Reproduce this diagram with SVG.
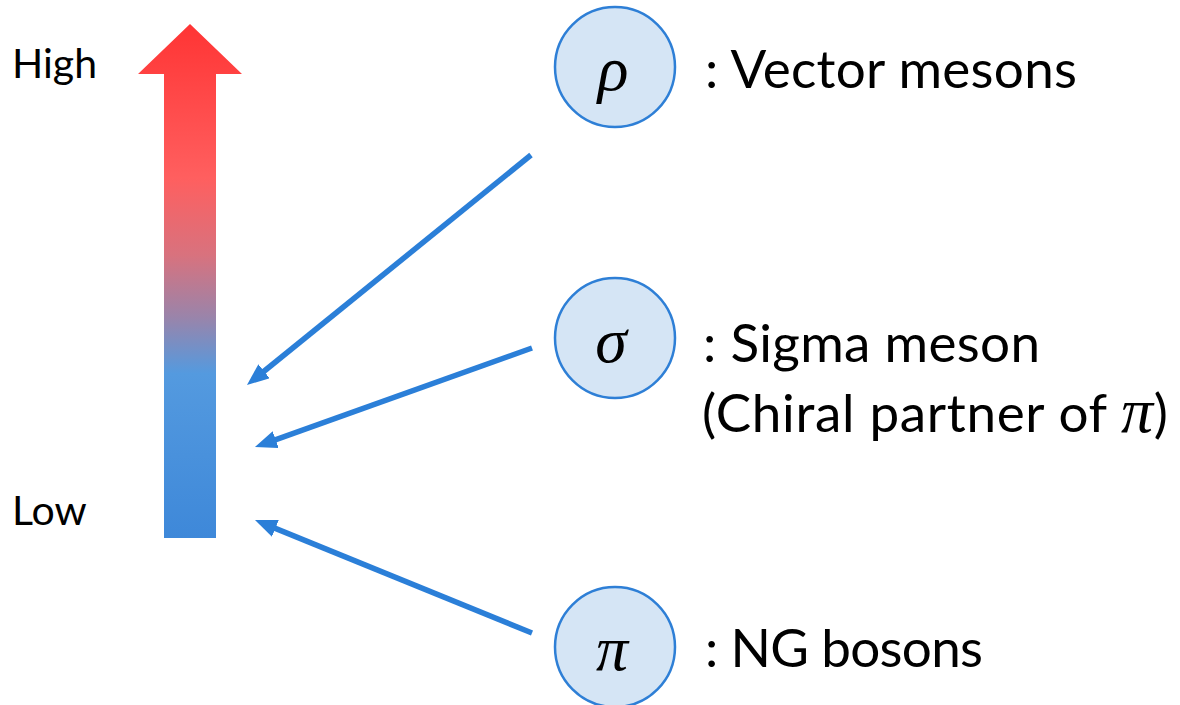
<svg xmlns="http://www.w3.org/2000/svg" width="1180" height="705" viewBox="0 0 1180 705">
  <style>
    .lbl { font-family: Lato, "Open Sans", "Liberation Sans", sans-serif; font-size: 53px; fill: #000; }
    .axis { font-family: Lato, "Open Sans", "Liberation Sans", sans-serif; font-size: 41px; fill: #000; }
    .greek { font-family: "Liberation Serif", "DejaVu Serif", serif; font-style: italic; font-size: 64px; fill: #000; }
    .node { fill: #D5E5F5; stroke: #2E7FD6; stroke-width: 2.5; }
    .link { stroke: #2B7FD8; stroke-width: 5.5; fill: none; marker-end: url(#head); }
  </style>
  <defs>
    <linearGradient id="scale" x1="0" y1="24" x2="0" y2="538" gradientUnits="userSpaceOnUse">
      <stop offset="0" stop-color="#FF3434"/>
      <stop offset="0.30" stop-color="#FF5F5F"/>
      <stop offset="0.45" stop-color="#D8727E"/>
      <stop offset="0.57" stop-color="#9A84AA"/>
      <stop offset="0.68" stop-color="#549ADF"/>
      <stop offset="1" stop-color="#3E88D9"/>
    </linearGradient>
    <marker id="head" viewBox="0 0 22 18" markerWidth="22" markerHeight="18" refX="2" refY="9" orient="auto" markerUnits="userSpaceOnUse">
      <path d="M0,0 L22,9 L0,18 z" fill="#2B7FD8"/>
    </marker>
  </defs>

  <!-- energy scale arrow -->
  <g id="scale-arrow">
    <path d="M190,24 L242,74 L216,74 L216,538 L164,538 L164,74 L138,74 Z" fill="url(#scale)"/>
    <text class="axis" x="12" y="78">High</text>
    <text class="axis" x="12" y="525">Low</text>
  </g>

  <!-- connectors -->
  <g id="connectors">
    <line class="link" x1="531" y1="155" x2="262.5" y2="372.5"/>
    <line class="link" x1="532" y1="348" x2="273.8" y2="440.3"/>
    <line class="link" x1="532" y1="633" x2="273.5" y2="527.6"/>
  </g>

  <!-- mesons -->
  <g id="rho">
    <circle class="node" cx="615" cy="67" r="60"/>
    <text class="greek" x="613" y="90" text-anchor="middle">ρ</text>
    <text class="lbl" x="705" y="88" textLength="372">: Vector mesons</text>
  </g>
  <g id="sigma">
    <circle class="node" cx="615" cy="338" r="60"/>
    <text class="greek" x="611" y="362" text-anchor="middle">σ</text>
    <text class="lbl" x="703" y="362" textLength="337">: Sigma meson</text>
    <text class="lbl" x="702" y="432" textLength="466">(Chiral partner of <tspan class="greek" font-size="58">π</tspan>)</text>
  </g>
  <g id="pi">
    <circle class="node" cx="615" cy="647" r="60"/>
    <text class="greek" x="612" y="670" text-anchor="middle">π</text>
    <text class="lbl" x="705" y="667" textLength="278">: NG bosons</text>
  </g>
</svg>
